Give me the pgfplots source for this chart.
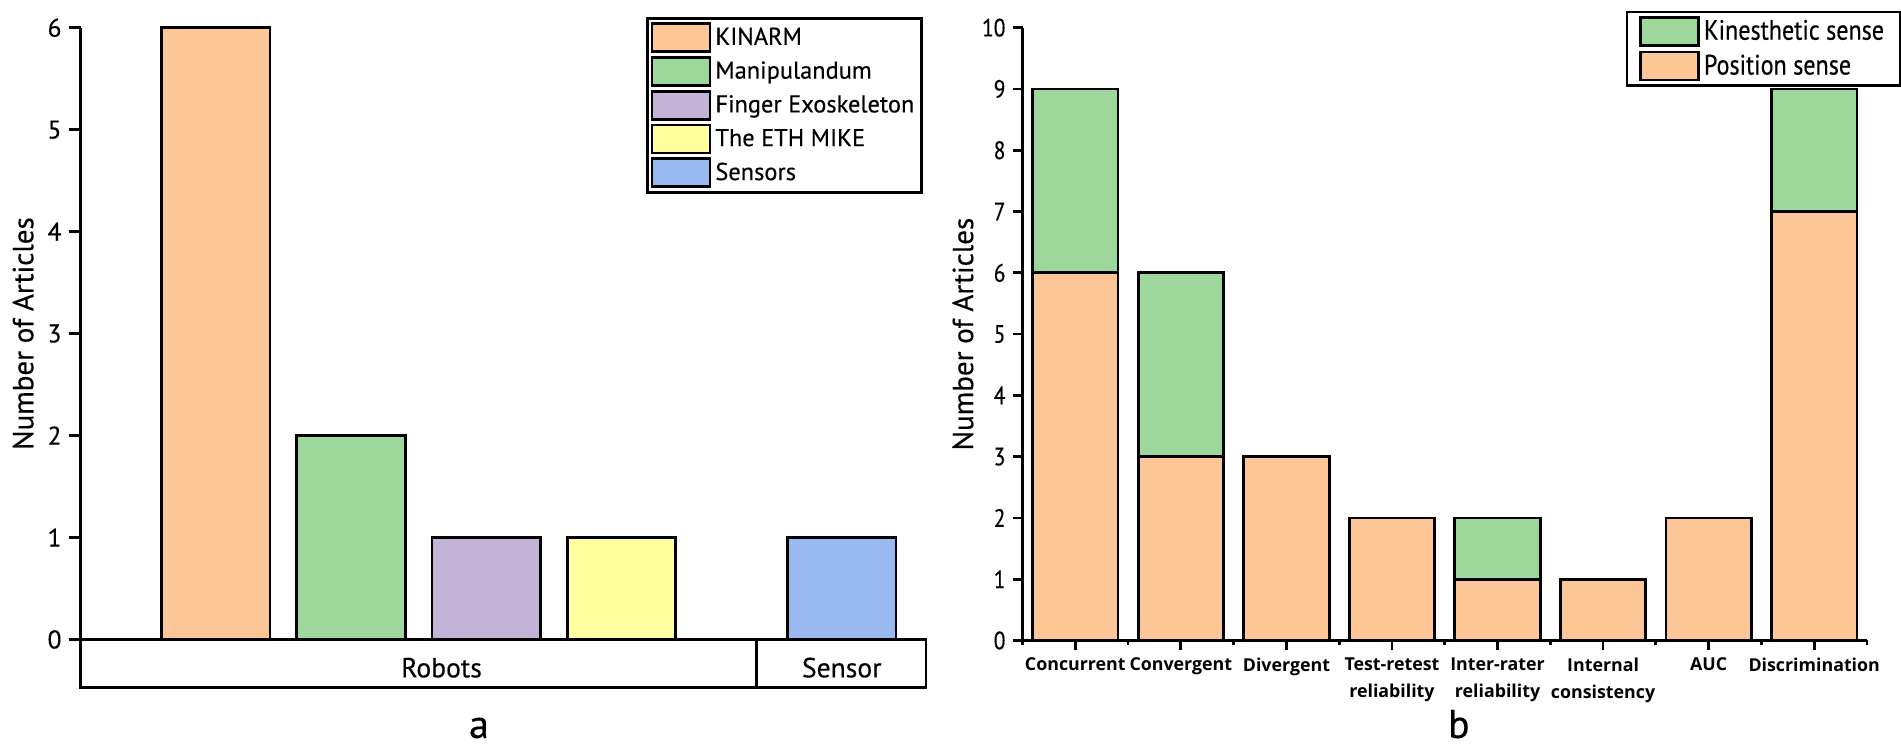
\documentclass[border=0pt]{standalone}
\usepackage{pgfplots}
\pgfplotsset{compat=1.18}
\usepackage{fontspec}
\setmainfont[FakeBold=0.35]{PT Sans}
\newfontfamily\condfont[FakeStretch=0.86,FakeBold=0.35]{PT Sans}
\newfontfamily\xfont{Open Sans}
\definecolor{cpeach}{RGB}{252,198,151}
\definecolor{cgreen}{RGB}{158,215,156}
\definecolor{cpurple}{RGB}{195,179,215}
\definecolor{cyellow}{RGB}{255,255,160}
\definecolor{cblue}{RGB}{153,185,240}
\pgfplotsset{
  barstyle/.style={draw=black, line width=1.4pt},
  /pgf/number format/assume math mode=true,
}
\begin{document}
\begin{tikzpicture}
\path[use as bounding box] (0,0) rectangle (950.5pt,374.5pt);
% ---------------- panel a ----------------
\begin{axis}[
  at={(40.3pt,54.75pt)}, anchor=south west,
  scale only axis, width=422.7pt, height=305.9pt,
  xmin=0, xmax=6.253, ymin=0, ymax=6,
  axis x line*=bottom, axis y line*=left,
  axis line style={line width=1.4pt,-},
  ytick={0,1,...,6}, xtick=\empty,
  tick align=outside, major tick length=6pt,
  tick style={line width=1.4pt, black},
  yticklabel style={font=\fontsize{12.8}{14}\selectfont},
  ylabel={Number of Articles},
  ylabel style={font=\fontsize{14.5}{16}\selectfont, at={(axis description cs:-0.068,0.5)}, anchor=center},
  ybar, bar width=54.25pt, bar shift=0pt,
  clip=false,
  legend cell align=left,
  legend image code/.code={\draw[#1] (0pt,-7pt) rectangle (29pt,7pt);},
  legend style={at={(axis description cs:0.6688,1.018)}, anchor=north west,
    draw=black, line width=1.6pt, inner xsep=1.5pt, inner ysep=2pt,
    row sep=1.5pt, font=\fontsize{12.2}{14}\selectfont},
]
\addplot[barstyle, fill=cpeach] coordinates {(1,6)};
\addlegendentry{KINARM}
\addplot[barstyle, fill=cgreen] coordinates {(2,2)};
\addlegendentry{Manipulandum}
\addplot[barstyle, fill=cpurple] coordinates {(3,1)};
\addlegendentry{Finger Exoskeleton}
\addplot[barstyle, fill=cyellow] coordinates {(4,1)};
\addlegendentry{The ETH MIKE}
\addplot[barstyle, fill=cblue] coordinates {(5.63,1)};
\addlegendentry{Sensors}
\draw[line width=1.4pt] (axis cs:0,0) rectangle (axis cs:6.253,-0.473);
\draw[line width=1.4pt] (axis cs:5,0) -- (axis cs:5,-0.473);
\node[anchor=base, font=\fontsize{13.8}{15}\selectfont] at (axis cs:2.67,-0.371) {Robots};
\node[anchor=base, font=\fontsize{13.8}{15}\selectfont] at (axis cs:5.63,-0.371) {Sensor};
\end{axis}
% ---------------- panel b ----------------
\begin{axis}[
  at={(511.25pt,54.25pt)}, anchor=south west,
  scale only axis, width=422.25pt, height=306.4pt,
  xmin=0.5, xmax=8.5, ymin=0, ymax=10,
  axis x line*=bottom, axis y line*=left,
  axis line style={line width=1.4pt,-},
  ytick={0,1,...,10},
  xtick={1,2,...,8},
  xticklabels={Concurrent, Convergent, Divergent, {Test-retest\\reliability}, {Inter-rater\\reliability}, {Internal\\consistency}, AUC, Discrimination},
  minor xtick={0.5,1.5,...,8.5},
  tick align=outside, major tick length=5pt, minor tick length=2.5pt,
  tick style={line width=1.4pt, black},
  minor tick style={line width=1.4pt, black},
  yticklabel style={font=\condfont\fontsize{12.5}{14}\selectfont},
  xticklabel style={font=\xfont\bfseries\fontsize{8.9}{13.5}\selectfont, align=center, anchor=north},
  ylabel={Number of Articles},
  ylabel style={font=\fontsize{14.5}{16}\selectfont, at={(axis description cs:-0.0705,0.5)}, anchor=center},
  ybar stacked, bar width=42.75pt,
  clip=false,
  reverse legend,
  legend cell align=left,
  legend image code/.code={\draw[#1] (0pt,-7pt) rectangle (29pt,7pt);},
  legend style={at={(axis description cs:0.7146,1.0278)}, anchor=north west,
    draw=black, line width=1.2pt, inner xsep=6pt, inner ysep=2pt,
    row sep=2pt, font=\condfont\fontsize{14}{16}\selectfont},
]
\addplot[barstyle, fill=cpeach] coordinates {(1,6) (2,3) (3,3) (4,2) (5,1) (6,1) (7,2) (8,7)};
\addlegendentry{Position sense}
\addplot[barstyle, fill=cgreen] coordinates {(1,3) (2,3) (3,0) (4,0) (5,1) (6,0) (7,0) (8,2)};
\addlegendentry{Kinesthetic sense}
\end{axis}
\node[anchor=base, font=\fontsize{20}{22}\selectfont] at (239.5pt,5.5pt) {a};
\node[anchor=base, font=\fontsize{20}{22}\selectfont] at (729.4pt,5.5pt) {b};
\end{tikzpicture}
\end{document}
